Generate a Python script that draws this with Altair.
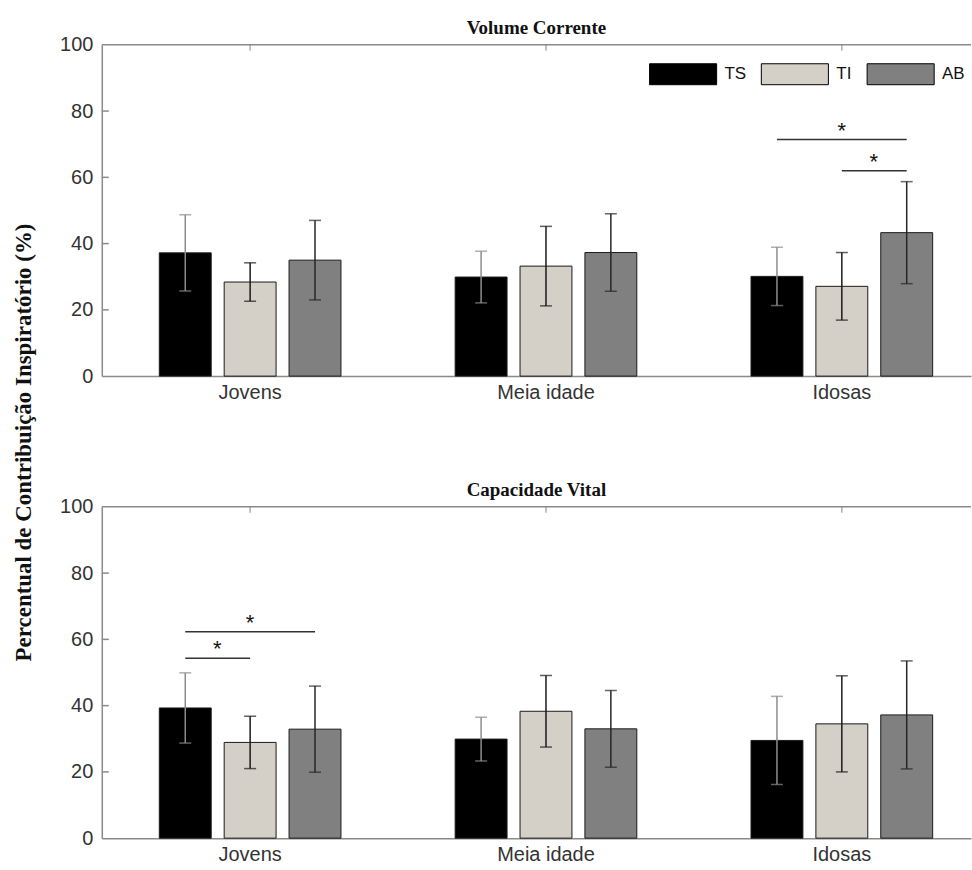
import altair as alt
import pandas as pd

groups = ["Jovens", "Meia idade", "Idosas"]
series = ["TS", "TI", "AB"]
colors = ["#000000", "#d4d0c8", "#808080"]
err_colors = ["#8c8c8c", "#1a1a1a", "#262626"]

# Volume Corrente (mean, sd) ordered group-major: Jovens TS,TI,AB, Meia idade ..., Idosas ...
vc_mean = [37.2, 28.4, 35.0, 29.9, 33.2, 37.3, 30.1, 27.1, 43.3]
vc_sd = [11.5, 5.8, 12.0, 7.8, 12.0, 11.7, 8.8, 10.2, 15.4]
# Capacidade Vital
cv_mean = [39.3, 28.9, 32.9, 29.9, 38.3, 33.0, 29.5, 34.5, 37.2]
cv_sd = [10.6, 7.9, 13.0, 6.6, 10.8, 11.6, 13.3, 14.5, 16.3]

# significance brackets: (group, from series, to series, level)
vc_sig = [("Idosas", "TS", "AB", 71.4), ("Idosas", "TI", "AB", 62.0)]
cv_sig = [("Jovens", "TS", "AB", 62.3), ("Jovens", "TS", "TI", 54.3)]

y_ticks = [0, 20, 40, 60, 80, 100]

W = 871
H = 332

FONT_SANS = "Liberation Sans"
FONT_SERIF = "Liberation Serif"
LBL = 20

x_scale = alt.Scale(domain=groups, paddingInner=0.386, paddingOuter=0.162, align=0.6)
xo_scale = alt.Scale(domain=series, paddingInner=0.2, paddingOuter=0)
y_scale = alt.Scale(domain=[0, 100], nice=False)
color_scale = alt.Scale(domain=series, range=colors)
err_scale = alt.Scale(domain=series, range=err_colors)


def bars_df(means, sds):
    rows = []
    k = 0
    for g in groups:
        for s in series:
            m, sd = means[k], sds[k]
            rows.append({"group": g, "series": s, "mean": m, "lo": m - sd, "hi": m + sd})
            k += 1
    return pd.DataFrame(rows)


def sig_dfs(sig):
    lines, stars_c, stars_h = [], [], []
    for i, (g, a, b, lvl) in enumerate(sig):
        lines.append({"id": i, "group": g, "series": a, "level": lvl})
        lines.append({"id": i, "group": g, "series": b, "level": lvl})
        ia, ib = series.index(a), series.index(b)
        if (ia + ib) % 2 == 0:
            stars_c.append({"group": g, "series": series[(ia + ib) // 2], "level": lvl})
        else:
            stars_h.append({"group": g, "series": series[min(ia, ib)], "level": lvl})
    return pd.DataFrame(lines), pd.DataFrame(stars_c), pd.DataFrame(stars_h)


def panel(means, sds, sig, title, show_legend, show_ytitle):
    df = bars_df(means, sds)
    x = alt.X("group:N", scale=x_scale, sort=groups,
              axis=alt.Axis(title=None, ticks=False, domain=True, domainColor="#8a8a8a",
                            domainWidth=1.5, labelFont=FONT_SANS, labelFontSize=LBL,
                            labelColor="#333333", labelPadding=6, labelAngle=0))
    xo = alt.XOffset("series:N", scale=xo_scale, sort=series)
    common = dict(values=y_ticks, ticks=False, grid=False, domainColor="#8a8a8a",
                  domainWidth=1.5, labelFont=FONT_SANS, labelFontSize=LBL,
                  labelColor="#333333", labelPadding=9)
    if show_ytitle:
        yaxis = alt.Axis(title="Percentual de Contribuição Inspiratório (%)",
                         titleFont=FONT_SERIF, titleFontSize=23, titleFontWeight="bold",
                         titleColor="#111111", titleAngle=270, titleX=-78, titleY=398,
                         titleAlign="center", titleBaseline="middle", **common)
    else:
        yaxis = alt.Axis(title=None, **common)

    if show_legend:
        legend = alt.Legend(title=None, orient="none", legendX=548, legendY=8,
                            direction="horizontal",
                            symbolType="M-1.6,-0.5H1.6V0.5H-1.6Z", symbolSize=1764,
                            symbolStrokeColor="#000000", symbolStrokeWidth=1,
                            symbolOffset=13, labelOffset=20, columnPadding=12,
                            labelFont=FONT_SANS, labelFontSize=17, labelColor="#111111")
    else:
        legend = None

    base = alt.Chart(df)
    bars = base.mark_bar(stroke="#1a1a1a", strokeWidth=1).encode(
        x=x, xOffset=xo,
        y=alt.Y("mean:Q", scale=y_scale, axis=yaxis),
        color=alt.Color("series:N", scale=color_scale, sort=series, legend=legend),
    )
    ytick_df = pd.DataFrame({"v": y_ticks[1:-1]})
    yticks = alt.Chart(ytick_df).mark_rule(color="#8a8a8a", strokeWidth=1.5).encode(
        x=alt.value(0), x2=alt.value(7), y=alt.Y("v:Q", scale=y_scale))
    top_df = pd.DataFrame({"v": [100]})
    top_line = alt.Chart(top_df).mark_rule(color="#8a8a8a", strokeWidth=1.5).encode(
        x=alt.value(0), x2=alt.value(W), y=alt.Y("v:Q", scale=y_scale))
    tt_df = pd.DataFrame({"group": groups, "v": [100] * 3})
    top_ticks = alt.Chart(tt_df).mark_tick(color="#8a8a8a", orient="vertical", size=6,
                                           thickness=1.5, yOffset=3).encode(
        x=alt.X("group:N", scale=x_scale, sort=groups), y=alt.Y("v:Q", scale=y_scale))
    err_rule = base.mark_rule(strokeWidth=1.5).encode(
        x=x, xOffset=xo, y=alt.Y("lo:Q", scale=y_scale), y2="hi:Q",
        color=alt.Color("series:N", scale=err_scale, legend=None))
    cap_lo = base.mark_tick(size=12, thickness=1.5).encode(
        x=x, xOffset=xo, y=alt.Y("lo:Q", scale=y_scale),
        color=alt.Color("series:N", scale=err_scale, legend=None))
    cap_hi = base.mark_tick(size=12, thickness=1.5).encode(
        x=x, xOffset=xo, y=alt.Y("hi:Q", scale=y_scale),
        color=alt.Color("series:N", scale=err_scale, legend=None))

    lines_df, sc_df, sh_df = sig_dfs(sig)
    sig_lines = alt.Chart(lines_df).mark_line(color="#333333", strokeWidth=1.5).encode(
        x=alt.X("group:N", scale=x_scale, sort=groups), xOffset=xo,
        y=alt.Y("level:Q", scale=y_scale), detail="id:N")
    layers = [bars, err_rule, cap_lo, cap_hi, yticks, top_line, top_ticks, sig_lines]
    if len(sc_df):
        layers.append(alt.Chart(sc_df).mark_text(text="*", font=FONT_SANS, fontSize=22,
                                                 baseline="alphabetic", color="#111111", dy=-2).encode(
            x=alt.X("group:N", scale=x_scale, sort=groups), xOffset=xo,
            y=alt.Y("level:Q", scale=y_scale)))
    if len(sh_df):
        layers.append(alt.Chart(sh_df).mark_text(text="*", font=FONT_SANS, fontSize=22,
                                                 baseline="alphabetic", color="#111111", dy=-2,
                                                 dx=32).encode(
            x=alt.X("group:N", scale=x_scale, sort=groups), xOffset=xo,
            y=alt.Y("level:Q", scale=y_scale)))

    return alt.layer(*layers).resolve_scale(color="independent").properties(
        width=W, height=H,
        title=alt.TitleParams(title, font=FONT_SERIF, fontSize=19, fontWeight="bold",
                              color="#111111", offset=-3, anchor="middle"))


top = panel(vc_mean, vc_sd, vc_sig, "Volume Corrente", True, True)
bottom = panel(cv_mean, cv_sd, cv_sig, "Capacidade Vital", False, False)

chart = alt.vconcat(top, bottom, spacing=131, bounds="flush").resolve_scale(
    color="independent").configure_view(stroke=None).properties(
    padding={"left": 13, "top": 18, "right": 0, "bottom": 0},
    background="white")

chart.save("out.html", embed_options={"renderer": "svg", "actions": False})
